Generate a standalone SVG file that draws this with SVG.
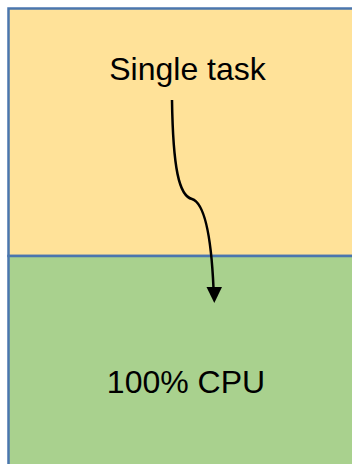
<svg xmlns="http://www.w3.org/2000/svg" width="352" height="464" viewBox="0 0 352 464">
<style>
.box{stroke:#4A76AE;stroke-width:2.5}
.lbl{font-family:"Liberation Sans",Arial,sans-serif;font-size:32px;fill:#000;text-anchor:middle}
.conn{fill:none;stroke:#000;stroke-width:2.5}
</style>
<rect width="352" height="464" fill="#ffffff"/>
<g id="task">
<rect class="box" x="8.5" y="8.5" width="360" height="247.5" fill="#FFE299"/>
<text class="lbl" x="187.5" y="80">Single task</text>
</g>
<g id="cpu">
<rect class="box" x="8.5" y="256" width="360" height="230" fill="#A9D18E"/>
<text class="lbl" x="186" y="393">100% CPU</text>
</g>
<g id="connectors">
<path class="conn" d="M172,100 C173,168 179,196 192,199 C204,203 211,232 213.5,288"/>
<polygon points="206.5,287 222,287 214.3,303" fill="#000"/>
</g>
</svg>
